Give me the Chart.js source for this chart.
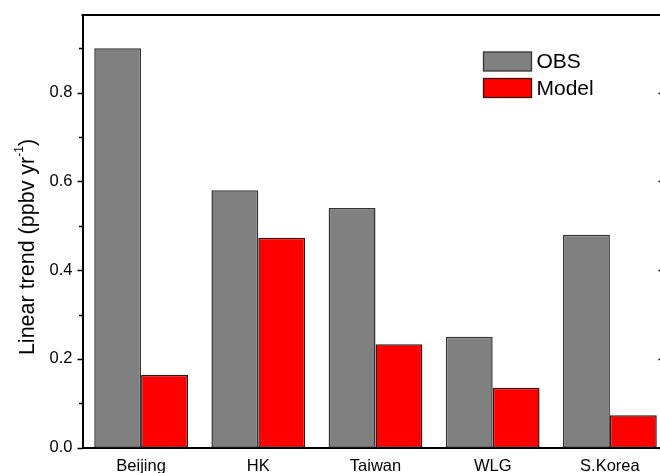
<!DOCTYPE html>
<html>
<head>
<meta charset="utf-8">
<script src="https://cdn.jsdelivr.net/npm/chart.js@4/dist/chart.umd.min.js"></script>
<style>
  html, body { margin: 0; padding: 0; background: #fff; overflow: hidden; }
  #wrap { width: 660px; height: 473px; overflow: hidden; position: relative; }
  canvas { display: block; }
</style>
</head>
<body>
<div id="wrap"><canvas id="c" width="669" height="473"></canvas></div>
<script>
// Linear ozone trends per site (ppbv per year)
const sites = ['Beijing', 'HK', 'Taiwan', 'WLG', 'S.Korea'];
const obsTrend = [0.90, 0.58, 0.54, 0.25, 0.48];
const modelTrend = [0.164, 0.473, 0.233, 0.135, 0.073];
const yTickLabels = ['0.0', '0.2', '0.4', '0.6', '0.8'];
const seriesNames = ['OBS', 'Model'];

const FONT = '"Liberation Sans", Arial, Helvetica, sans-serif';

// Axis frame: top border, mirrored right axis, and major/minor tick marks
const framePlugin = {
  id: 'frame',
  afterDraw(chart) {
    const { ctx, chartArea: a, scales: { y } } = chart;
    ctx.save();
    ctx.strokeStyle = '#000';
    ctx.lineWidth = 2;
    ctx.beginPath();
    ctx.moveTo(a.left - 1, a.top);
    ctx.lineTo(a.right + 1, a.top);
    ctx.moveTo(a.right, a.top);
    ctx.lineTo(a.right, a.bottom);
    ctx.stroke();
    ctx.lineWidth = 1.3;
    y.ticks.forEach(t => {
      const v = Math.round(t.value * 10);
      if (Math.abs(t.value * 10 - v) > 1e-6) return;
      const py = Math.round(y.getPixelForValue(t.value)) + 0.5;
      const major = v % 2 === 0;
      const len = major ? 5 : 3.5;
      ctx.beginPath();
      ctx.moveTo(a.left - len, py);
      ctx.lineTo(a.left, py);
      ctx.moveTo(a.right - (major ? 10 : 6), py);
      ctx.lineTo(a.right, py);
      ctx.stroke();
    });
    ctx.restore();
  }
};

// Y-axis title with superscript unit exponent
const yTitlePlugin = {
  id: 'yTitle',
  afterDraw(chart) {
    const { ctx } = chart;
    const main = 'Linear trend (ppbv yr';
    const sup = '-1';
    const close = ')';
    ctx.save();
    ctx.fillStyle = '#000';
    ctx.textBaseline = 'middle';
    ctx.textAlign = 'left';
    const mainFont = '21.5px ' + FONT;
    const supFont = '12px ' + FONT;
    ctx.font = mainFont;
    const w1 = ctx.measureText(main).width;
    const w3 = ctx.measureText(close).width;
    ctx.font = supFont;
    const w2 = ctx.measureText(sup).width;
    const total = w1 + w2 + w3;
    ctx.translate(28, 247);
    ctx.rotate(-Math.PI / 2);
    let x = -total / 2;
    ctx.font = mainFont;
    ctx.fillText(main, x, 0);
    x += w1;
    ctx.font = supFont;
    ctx.fillText(sup, x, -8);
    x += w2;
    ctx.font = mainFont;
    ctx.fillText(close, x, 0);
    ctx.restore();
  }
};

// Legend drawn inside the plot area, upper right
const legendPlugin = {
  id: 'insideLegend',
  afterDraw(chart) {
    const { ctx } = chart;
    ctx.save();
    chart.data.datasets.forEach((ds, i) => {
      const bx = 483.5, by = 52 + i * 26.5, bw = 48, bh = 19;
      ctx.fillStyle = ds.backgroundColor;
      ctx.fillRect(bx, by, bw, bh);
      ctx.strokeStyle = ds.borderColor;
      ctx.lineWidth = 1.3;
      ctx.strokeRect(bx, by, bw, bh);
      ctx.fillStyle = '#000';
      ctx.font = '21px ' + FONT;
      ctx.textBaseline = 'middle';
      ctx.textAlign = 'left';
      ctx.fillText(ds.label, bx + bw + 5, by + bh / 2 + 1);
    });
    ctx.restore();
  }
};

new Chart(document.getElementById('c'), {
  type: 'bar',
  data: {
    labels: sites,
    datasets: [
      {
        label: seriesNames[0],
        data: obsTrend,
        backgroundColor: '#808080',
        borderColor: '#333333',
        borderWidth: 1.5,
        borderSkipped: false
      },
      {
        label: seriesNames[1],
        data: modelTrend,
        backgroundColor: '#ff0000',
        borderColor: '#3a1010',
        borderWidth: 1.5,
        borderSkipped: false
      }
    ]
  },
  options: {
    responsive: false,
    animation: false,
    devicePixelRatio: 1,
    layout: { padding: { top: 15, left: 0, right: 0.5, bottom: 0 } },
    datasets: { bar: { categoryPercentage: 0.8, barPercentage: 1.0 } },
    plugins: {
      legend: { display: false },
      tooltip: { enabled: false },
      title: { display: false }
    },
    scales: {
      x: {
        grid: { display: false, drawTicks: false },
        border: { display: true, color: '#000', width: 2 },
        ticks: { color: '#000', font: { family: FONT, size: 16.5 }, padding: 9, maxRotation: 0 },
        afterFit(s) { s.height = 25.3; s.paddingLeft = 0; s.paddingRight = 0; }
      },
      y: {
        min: 0,
        max: 0.975,
        grid: { display: false, drawTicks: false },
        border: { display: true, color: '#000', width: 2 },
        ticks: {
          stepSize: 0.1,
          color: '#000',
          padding: 10,
          font: { family: FONT, size: 16.5 },
          callback(value) {
            const k = Math.round(value * 5);
            if (Math.abs(value * 5 - k) > 1e-6) return '';
            return yTickLabels[k] !== undefined ? yTickLabels[k] : '';
          }
        },
        afterFit(s) { s.width = 82.5; s.paddingTop = 0; s.paddingBottom = 0; }
      }
    }
  },
  plugins: [framePlugin, yTitlePlugin, legendPlugin]
});
</script>
</body>
</html>
